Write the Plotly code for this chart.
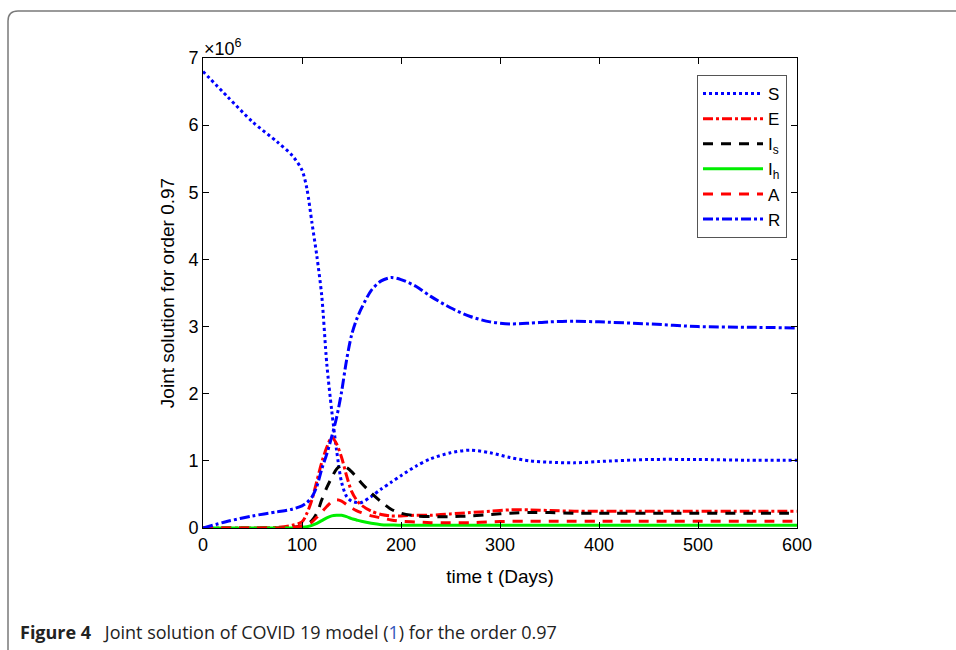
import plotly.graph_objects as go

# ---------------- data (values in units of 1e6) ----------------
days = [0, 25, 50, 75, 90, 100, 105, 110, 115, 120, 125, 130, 135, 140, 145,
        150, 155, 160, 170, 180, 190, 200, 215, 230, 250, 270, 290, 310, 330,
        350, 375, 400, 450, 500, 550, 600]

S = [6.80, 6.42, 6.05, 5.75, 5.55, 5.33, 5.05, 4.55, 4.05, 3.45, 2.45, 1.75,
     1.15, 0.68, 0.47, 0.40, 0.38, 0.38, 0.47, 0.58, 0.68, 0.78, 0.92, 1.03,
     1.12, 1.16, 1.12, 1.05, 1.00, 0.98, 0.97, 0.99, 1.02, 1.02, 1.01, 1.01]

E = [0.0, 0.0, 0.0, 0.01, 0.04, 0.09, 0.22, 0.42, 0.70, 0.98, 1.20, 1.35,
     1.25, 1.05, 0.78, 0.55, 0.42, 0.34, 0.25, 0.20, 0.18, 0.18, 0.19, 0.19,
     0.21, 0.23, 0.25, 0.27, 0.27, 0.26, 0.25, 0.25, 0.25, 0.25, 0.25, 0.25]

Is = [0.0, 0.0, 0.0, 0.0, 0.01, 0.03, 0.06, 0.11, 0.22, 0.42, 0.60, 0.75,
      0.88, 0.93, 0.90, 0.84, 0.76, 0.67, 0.52, 0.39, 0.28, 0.22, 0.18, 0.17,
      0.17, 0.18, 0.20, 0.22, 0.23, 0.23, 0.22, 0.22, 0.22, 0.22, 0.22, 0.22]

Ih = [0.0, 0.0, 0.0, 0.0, 0.0, 0.01, 0.02, 0.04, 0.07, 0.11, 0.15, 0.18,
      0.19, 0.19, 0.17, 0.14, 0.12, 0.10, 0.07, 0.05, 0.045, 0.04, 0.04,
      0.04, 0.04, 0.04, 0.04, 0.04, 0.04, 0.04, 0.04, 0.04, 0.04, 0.04, 0.04,
      0.04]

A = [0.0, 0.0, 0.0, 0.0, 0.01, 0.03, 0.05, 0.09, 0.16, 0.24, 0.32, 0.39,
     0.42, 0.40, 0.35, 0.30, 0.26, 0.23, 0.18, 0.15, 0.12, 0.10, 0.09, 0.08,
     0.08, 0.08, 0.09, 0.10, 0.10, 0.10, 0.10, 0.10, 0.10, 0.10, 0.10, 0.10]

R = [0.0, 0.10, 0.18, 0.24, 0.28, 0.33, 0.38, 0.46, 0.62, 0.88, 1.10, 1.36,
     1.65, 2.03, 2.50, 2.87, 3.10, 3.27, 3.54, 3.68, 3.73, 3.70, 3.60, 3.45,
     3.28, 3.15, 3.07, 3.04, 3.05, 3.07, 3.08, 3.07, 3.04, 3.00, 2.99, 2.98]

series_names = ["S", "E", "I<sub>s</sub>", "I<sub>h</sub>", "A", "R"]
series_vals = [S, E, Is, Ih, A, R]
x_ticks = [0, 100, 200, 300, 400, 500, 600]
y_ticks = [0, 1, 2, 3, 4, 5, 6, 7]

styles = [
    dict(color="#0000ff", dash="3px,3px"),
    dict(color="#ff0000", dash="10px,3px,3px,3px"),
    dict(color="#000000", dash="10px,8px"),
    dict(color="#00ee00", dash="solid"),
    dict(color="#ff0000", dash="10px,8px"),
    dict(color="#0000ff", dash="10px,3px,3px,3px"),
]

fig = go.Figure()
for name, vals, st in zip(series_names, series_vals, styles):
    fig.add_trace(go.Scatter(
        x=days, y=[v * 1e6 for v in vals], name=name, mode="lines",
        line=dict(color=st["color"], dash=st["dash"], width=3,
                  shape="spline", smoothing=0.8),
    ))

W, H = 956, 650
L, Rr, T, B = 203, 797, 58, 528
FONT = "Liberation Sans, Arial, sans-serif"

def px(xp):
    return (xp - L) / (Rr - L)

def py(yp):
    return (B - yp) / (B - T)

axis_common = dict(showline=True, mirror="ticks", linecolor="black",
                   linewidth=1, ticks="inside", ticklen=6, tickcolor="black",
                   showgrid=False, zeroline=False,
                   tickfont=dict(family=FONT, size=18, color="black"))

fig.update_layout(
    width=W, height=H,
    margin=dict(l=L, r=W - Rr, t=T, b=H - B),
    paper_bgcolor="white", plot_bgcolor="white",
    font=dict(family=FONT, color="black"),
    xaxis=dict(range=[0, 600], tickvals=x_ticks,
               title=dict(text="time t (Days)", standoff=16,
                          font=dict(family=FONT, size=19)),
               **axis_common),
    yaxis=dict(range=[0, 7e6], tickvals=[v * 1e6 for v in y_ticks],
               ticktext=[str(v) for v in y_ticks],
               title=dict(text="Joint solution for order 0.97", standoff=8,
                          font=dict(family=FONT, size=19)),
               **axis_common),
    legend=dict(x=px(697), y=py(75), xanchor="left", yanchor="top",
                bgcolor="white", bordercolor="#555555", borderwidth=1,
                font=dict(family=FONT, size=17, color="black"),
                itemwidth=60, tracegroupgap=0),
    showlegend=True,
)

# x10^6 exponent label
fig.add_annotation(x=0, y=1, xref="paper", yref="paper", xanchor="left",
                   yanchor="bottom", showarrow=False, xshift=-1, yshift=-3,
                   text="×10<sup>6</sup>",
                   font=dict(family=FONT, size=18, color="black"))

# caption
fig.add_annotation(x=px(18), y=py(632), xref="paper", yref="paper",
                   xanchor="left", yanchor="middle", showarrow=False,
                   text="<b>Figure 4</b>\u2002 Joint solution of COVID 19 model "
                        "(<span style='color:#3355bb'>1</span>) for the order 0.97",
                   font=dict(family="Open Sans, sans-serif",
                             size=18, color="#222222"))

# rounded outer frame (left + top edges)
x0, ytop, ybot, xr = px(8), py(11), py(670), px(980)
rx, ry = 10 / (Rr - L), 10 / (B - T)
fig.add_shape(type="path", xref="paper", yref="paper",
              path=(f"M {x0},{ybot} L {x0},{ytop - ry} Q {x0},{ytop} "
                    f"{x0 + rx},{ytop} L {xr},{ytop}"),
              line=dict(color="#7a7a7a", width=1.5))

fig.write_html("out.html",
               config={"displayModeBar": False},
               post_script="document.body.style.margin='0';"
                           "document.body.style.overflow='hidden';")
